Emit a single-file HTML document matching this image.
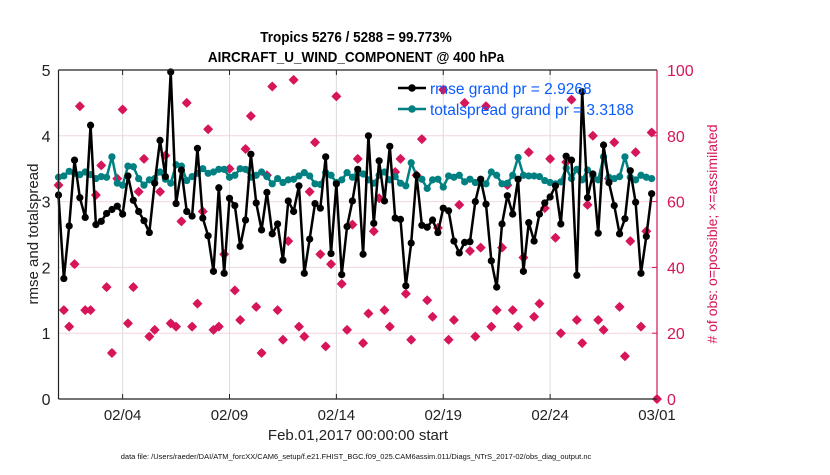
<!DOCTYPE html>
<html><head><meta charset="utf-8">
<style>
body{margin:0;background:#fff;}
svg text{font-family:"Liberation Sans",sans-serif;}
</style></head>
<body>
<svg id="chart" width="830" height="470" xmlns="http://www.w3.org/2000/svg">
<rect width="830" height="470" fill="#fff"/>
<text x="356" y="42" text-anchor="middle" font-size="15" font-weight="bold" transform="translate(356,0) scale(0.9,1) translate(-356,0)">Tropics 5276 / 5288 = 99.773%</text>
<text x="356" y="62" text-anchor="middle" font-size="15" font-weight="bold" transform="translate(356,0) scale(0.9,1) translate(-356,0)">AIRCRAFT_U_WIND_COMPONENT @ 400 hPa</text>
<g id="grid"></g>
<g id="marks"></g>
<g id="axes"></g>
<text transform="translate(38,234) rotate(-90)" text-anchor="middle" font-size="15" fill="#222">rmse and totalspread</text>
<text transform="translate(717,234) rotate(-90)" text-anchor="middle" font-size="14" fill="#d6155a">#  of obs: o=possible; ×=assimilated</text>
<text x="358" y="440" text-anchor="middle" font-size="15" fill="#222">Feb.01,2017 00:00:00 start</text>
<text x="356" y="459" text-anchor="middle" font-size="7.5" fill="#111">data file: /Users/raeder/DAI/ATM_forcXX/CAM6_setup/f.e21.FHIST_BGC.f09_025.CAM6assim.011/Diags_NTrS_2017-02/obs_diag_output.nc</text>
<g id="legend">
<line x1="398" y1="88" x2="426" y2="88" stroke="#000" stroke-width="2.5"/>
<circle cx="412" cy="88" r="3.8" fill="#000"/>
<text x="430" y="94" font-size="15.5" fill="#0a5cff">rmse grand pr = 2.9268</text>
<line x1="398" y1="109" x2="426" y2="109" stroke="#008080" stroke-width="2.5"/>
<circle cx="412" cy="109" r="3.8" fill="#008080"/>
<text x="430" y="115" font-size="15.5" fill="#0a5cff">totalspread grand pr = 3.3188</text>
</g>
</svg>
<script>
const rmse=[3.10,1.83,2.63,3.63,3.06,2.76,4.16,2.65,2.70,2.82,2.88,2.93,2.81,3.39,3.02,2.85,2.71,2.53,3.28,3.93,3.38,4.97,2.97,3.48,2.85,2.78,3.81,2.75,2.48,1.94,3.21,1.91,3.05,2.94,2.32,2.72,3.72,2.98,2.57,3.14,2.51,2.66,2.11,3.01,2.85,3.24,1.91,2.43,2.97,2.90,3.68,2.21,3.27,1.89,2.62,3.01,3.49,2.20,4.00,2.67,3.62,3.01,3.84,2.75,2.73,1.72,2.37,3.40,2.64,2.61,2.72,2.53,2.90,2.86,2.40,2.22,2.38,2.39,3.00,3.34,2.96,2.10,1.70,2.66,3.09,2.81,3.34,1.94,2.68,2.40,2.81,2.98,3.07,3.24,2.66,3.69,3.63,1.88,4.67,3.06,3.42,2.52,3.86,3.29,2.94,2.51,2.74,3.47,2.99,1.91,2.47,3.12];
const spread=[3.37,3.39,3.46,3.43,3.41,3.45,3.41,3.35,3.38,3.37,3.68,3.28,3.25,3.54,3.53,3.35,3.25,3.33,3.35,3.45,3.34,3.28,3.56,3.54,3.32,3.38,3.43,3.50,3.43,3.45,3.49,3.49,3.37,3.40,3.50,3.49,3.37,3.40,3.45,3.38,3.27,3.35,3.29,3.33,3.34,3.39,3.44,3.39,3.27,3.26,3.44,3.40,3.29,3.33,3.44,3.37,3.43,3.42,3.33,3.28,3.40,3.45,3.33,3.38,3.28,3.24,3.59,3.40,3.34,3.20,3.33,3.34,3.22,3.39,3.37,3.40,3.30,3.34,3.29,3.28,3.27,3.45,3.40,3.27,3.28,3.40,3.67,3.40,3.39,3.39,3.38,3.32,3.29,3.27,3.30,3.51,3.35,3.49,3.33,3.48,3.39,3.33,3.68,3.37,3.35,3.38,3.68,3.37,3.33,3.40,3.37,3.35];
const nobs=[65,27,22,41,89,27,27,62,71,34,14,67,88,23,34,63,73,19,21,63,74,23,22,54,90,22,29,57,82,21,22,44,70,33,24,76,86,28,14,68,95,27,18,48,97,22,19,63,78,44,16,41,92,35,21,53,73,17,26,51,61,27,22,69,73,32,18,68,79,30,25,52,94,18,24,59,90,45,19,46,89,22,27,46,65,27,22,43,75,25,29,58,73,49,20,72,91,24,17,59,80,24,21,67,78,28,13,48,75,22,51,81,0];
const yTicksL=[0,1,2,3,4,5];
const yTicksR=[0,20,40,60,80,100];
const xTickDays=[3,8,13,18,23,28];
const xTickLabels=["02/04","02/09","02/14","02/19","02/24","03/01"];
const stepDays=0.25;

const X0=58.5,X1=657,Y0=399,Y1=70,DAYS=28;
const xs=d=>X0+(X1-X0)*d/DAYS;
const yl=v=>Y0-(Y0-Y1)*v/5;
const yr=v=>Y0-(Y0-Y1)*v/100;
const NS="http://www.w3.org/2000/svg";
function mk(tag,attrs,parent){const e=document.createElementNS(NS,tag);for(const k in attrs)e.setAttribute(k,attrs[k]);parent.appendChild(e);return e;}
const grid=document.getElementById('grid'),marks=document.getElementById('marks'),axes=document.getElementById('axes');

yTicksL.forEach(v=>{if(v>0&&v<5){const l=mk('line',{x1:X0,x2:X1,y1:yl(v),y2:yl(v),stroke:'#f2d6de','stroke-width':1},grid);

}
const t=mk('text',{x:X0-8,y:yl(v)+6,'text-anchor':'end','font-size':16,fill:'#222'},axes);t.textContent=v;

});
yTicksR.forEach(v=>{const t=mk('text',{x:X1+10,y:yr(v)+6,'font-size':16,fill:'#d6155a'},axes);t.textContent=v;


mk('line',{x1:X1-5,x2:X1,y1:yr(v),y2:yr(v),stroke:'#d6155a'},axes);});
xTickDays.forEach((d,i)=>{if(d<DAYS){const l=mk('line',{x1:xs(d),x2:xs(d),y1:Y0,y2:Y1,stroke:'#dcdcdc','stroke-width':1},grid);

}
mk('line',{x1:xs(d),x2:xs(d),y1:Y0,y2:Y0-5,stroke:'#222'},axes);
mk('line',{x1:xs(d),x2:xs(d),y1:Y1,y2:Y1+5,stroke:'#222'},axes);
const t=mk('text',{x:xs(d),y:Y0+21,'text-anchor':'middle','font-size':15,fill:'#222'},axes);t.textContent=xTickLabels[i];

});
mk('line',{x1:X0,x2:X1,y1:Y0,y2:Y0,stroke:'#222','stroke-width':1.2},axes);
mk('line',{x1:X0,x2:X1,y1:Y1,y2:Y1,stroke:'#222','stroke-width':1.2},axes);
mk('line',{x1:X0,x2:X0,y1:Y0,y2:Y1,stroke:'#222','stroke-width':1.2},axes);
mk('line',{x1:X1,x2:X1,y1:Y0,y2:Y1,stroke:'#d6155a','stroke-width':1.2},axes);

nobs.forEach((v,i)=>{const cx=xs(i*stepDays),cy=yr(v),s=5;
const c=mk('circle',{cx:cx,cy:cy,r:3,fill:'none',stroke:'#d6155a','stroke-width':1.3},marks);


const p=mk('polygon',{points:`${cx},${cy-s} ${cx+s},${cy} ${cx},${cy+s} ${cx-s},${cy}`,fill:'#d6155a'},marks);

});

function series(arr,color,name){
const pl=mk('polyline',{points:arr.map((v,i)=>xs(i*stepDays)+','+yl(v)).join(' '),fill:'none',stroke:color,'stroke-width':2.5,'stroke-linejoin':'round'},marks);


arr.forEach((v,i)=>{const c=mk('circle',{cx:xs(i*stepDays),cy:yl(v),r:3.6,fill:color},marks);

});}
series(spread,'#008080','totalspread');
series(rmse,'#000','rmse');
</script>
</body></html>
